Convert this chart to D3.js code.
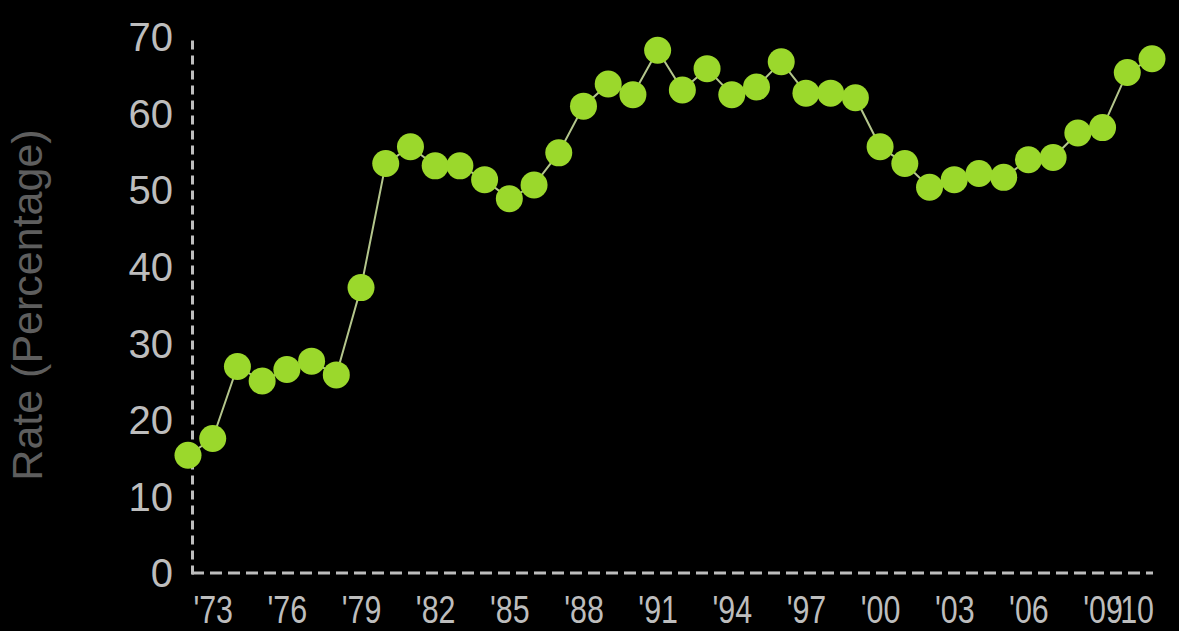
<!DOCTYPE html>
<html>
<head>
<meta charset="utf-8">
<script src="https://cdn.jsdelivr.net/npm/d3@7"></script>
<style>
  html, body { margin: 0; padding: 0; background: #000; }
  svg { display: block; }
</style>
</head>
<body>
<div id="chart"></div>
<script>
// rate per year
var years = [1972, 1973, 1974, 1975, 1976, 1977, 1978, 1979, 1980, 1981,
             1982, 1983, 1984, 1985, 1986, 1987, 1988, 1989, 1990, 1991,
             1992, 1993, 1994, 1995, 1996, 1997, 1998, 1999, 2000, 2001,
             2002, 2003, 2004, 2005, 2006, 2007, 2008, 2009, 2010, 2011];
var rates = [15.5, 17.7, 27.1, 25.2, 26.7, 27.8, 26.0, 37.4, 53.6, 55.8,
             53.3, 53.3, 51.5, 49.0, 50.8, 55.0, 61.1, 64.0, 62.6, 68.4,
             63.2, 66.0, 62.6, 63.6, 66.9, 62.8, 62.8, 62.2, 55.8, 53.6,
             50.5, 51.5, 52.3, 51.8, 54.1, 54.4, 57.6, 58.3, 65.5, 67.3];
var xTicks = [1973, 1976, 1979, 1982, 1985, 1988, 1991, 1994, 1997, 2000, 2003, 2006, 2009, 2010];
var yTicks = [0, 10, 20, 30, 40, 50, 60, 70];
var yTitle = "Rate (Percentage)";

var width = 1179, height = 631;
var axisX = 192, axisY = 574;

var data = years.map(function(d, i) { return {year: d, rate: rates[i]}; });

var svg = d3.select("#chart").append("svg")
    .attr("width", width)
    .attr("height", height)
    .style("background", "#000");

var x = d3.scaleLinear().domain([1972, 2011]).range([188, 1152]);
var y = d3.scaleLinear().domain([0, 70]).range([axisY, 38]);

// y axis
var gy = svg.append("g")
    .attr("transform", "translate(" + axisX + ",0)")
    .call(d3.axisLeft(y).tickValues(yTicks).tickSize(0).tickPadding(19));
gy.select(".domain")
    .attr("stroke", "#bdbdbd")
    .attr("stroke-width", 3)
    .attr("stroke-dasharray", "9,6");
gy.selectAll("text")
    .attr("fill", "#bdbdbd")
    .style("font-family", "'Liberation Sans', Arial, sans-serif")
    .style("font-size", "40px");

// x axis, labels are narrow in the original
var gx = svg.append("g")
    .attr("transform", "translate(0," + (axisY - 1) + ")")
    .call(d3.axisBottom(x).tickValues(xTicks).tickSize(0).tickPadding(23)
        .tickFormat(function(d) { return "'" + String(d).slice(2); }));
gx.select(".domain")
    .attr("d", "M" + axisX + ",0H1153")
    .attr("stroke", "#bdbdbd")
    .attr("stroke-width", 3)
    .attr("stroke-dasharray", "12,6");
gx.selectAll("text")
    .attr("fill", "#bdbdbd")
    .attr("transform", "scale(0.8,1)")
    .style("font-family", "'Liberation Sans', Arial, sans-serif")
    .style("font-size", "38px");
gx.selectAll(".tick").filter(function(d) { return d === 2010; })
    .select("text").attr("x", 8);

// y title
svg.append("text")
    .attr("transform", "translate(42,305) rotate(-90)")
    .attr("text-anchor", "middle")
    .attr("fill", "#5e5e5e")
    .style("font-family", "'Liberation Sans', Arial, sans-serif")
    .style("font-size", "43px")
    .text(yTitle);

// line + dots
var line = d3.line()
    .x(function(d) { return x(d.year); })
    .y(function(d) { return y(d.rate); });

svg.append("path")
    .datum(data)
    .attr("fill", "none")
    .attr("stroke", "#b4c68c")
    .attr("stroke-width", 2)
    .attr("d", line);

svg.selectAll("circle.dot")
    .data(data)
    .enter().append("circle")
    .attr("class", "dot")
    .attr("cx", function(d) { return x(d.year); })
    .attr("cy", function(d) { return y(d.rate); })
    .attr("r", 13.5)
    .attr("fill", "#9bd82c");
</script>
</body>
</html>
